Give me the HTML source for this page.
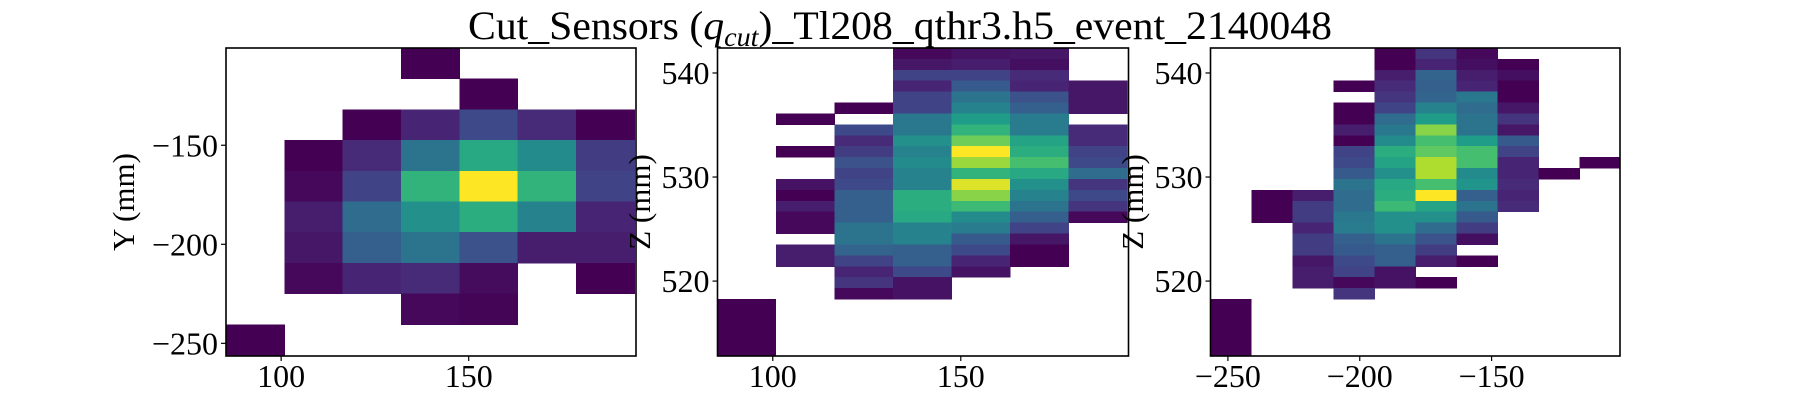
<!DOCTYPE html>
<html><head><meta charset="utf-8"><style>
html,body{margin:0;padding:0;background:#fff;width:1800px;height:400px;overflow:hidden}
svg{display:block;font-family:"Liberation Serif",serif}
</style></head><body>
<svg id="fig" width="1800" height="400" viewBox="0 0 1800 400" xmlns="http://www.w3.org/2000/svg">
<rect width="1800" height="400" fill="#fff"/>
<text x="900" y="39" font-size="40" text-anchor="middle" textLength="864" lengthAdjust="spacingAndGlyphs">Cut_Sensors (<tspan font-style="italic">q</tspan><tspan font-style="italic" font-size="27" dy="7">cut</tspan><tspan dy="-7">)_Tl208_qthr3.h5_event_2140048</tspan></text>
<g id="plots"></g>
</svg>
<script>
// ---- Panel 1: X vs Y ----
const p1XStart = 85.3, p1XBin = 15.55, p1YTop = -100.9, p1YBin = 15.5;
const p1Values = [
 [null,null,null,0.0,null,null,null],
 [null,null,null,null,0.0,null,null],
 [null,null,0.0,0.1,0.22,0.12,0.0],
 [null,0.0,0.12,0.38,0.6,0.48,0.18],
 [null,0.02,0.2,0.65,1.0,0.65,0.2],
 [null,0.08,0.35,0.5,0.62,0.45,0.1],
 [null,0.06,0.3,0.38,0.25,0.08,0.08],
 [null,0.02,0.1,0.12,0.03,null,0.0],
 [null,null,null,0.02,0.01,null,null],
 [0.0,null,null,null,null,null,null]
];
const p1XTicks = [100,150];
const p1YTicks = [-150,-200,-250];

// ---- Panel 2: X vs Z ----
const p2XStart = 85.3, p2XBin = 15.55, p2YTop = 542.4, p2YBin = 1.049;
const p2Values = [
 [null,null,null,0.02,0.05,0.06,null],
 [null,null,null,0.06,0.08,0.04,null],
 [null,null,null,0.2,0.2,0.12,null],
 [null,null,null,0.1,0.28,0.1,0.06],
 [null,null,null,0.2,0.38,0.25,0.06],
 [null,null,0.0,0.2,0.45,0.3,0.06],
 [null,0.0,null,0.4,0.55,0.42,null],
 [null,null,0.22,0.4,0.65,0.42,0.12],
 [null,null,0.12,0.5,0.78,0.58,0.12],
 [null,0.0,0.18,0.45,1.0,0.62,0.2],
 [null,null,0.25,0.48,0.85,0.7,0.22],
 [null,null,0.2,0.45,0.65,0.6,0.35],
 [null,0.05,0.22,0.45,0.95,0.5,0.15],
 [null,0.0,0.3,0.62,0.82,0.45,0.22],
 [null,0.08,0.3,0.62,0.68,0.38,0.15],
 [null,0.02,0.3,0.6,0.48,0.3,0.02],
 [null,0.02,0.38,0.45,0.42,0.2,null],
 [null,null,0.38,0.45,0.28,0.06,null],
 [null,0.08,0.32,0.3,0.22,0.0,null],
 [null,0.08,0.2,0.3,0.1,0.0,null],
 [null,null,0.1,0.22,0.05,null,null],
 [null,null,0.15,0.05,null,null,null],
 [null,null,0.02,0.05,null,null,null]
];
const p2Extra = [[85.3,100.85,512.8,518.3,0.0]];
const p2XTicks = [100,150];
const p2YTicks = [540,530,520];

// ---- Panel 3: Y vs Z ----
const p3XStart = -256.6, p3XBin = 15.55, p3YTop = 542.4, p3YBin = 1.049;
const p3Values = [
 [null,null,null,null,0.0,0.15,0.02,null,null,null],
 [null,null,null,null,0.0,0.1,0.04,0.0,null,null],
 [null,null,null,null,0.08,0.32,0.08,0.04,null,null],
 [null,null,null,0.0,0.12,0.3,0.1,0.0,null,null],
 [null,null,null,null,0.15,0.32,0.4,0.0,null,null],
 [null,null,null,0.0,0.2,0.45,0.35,0.06,null,null],
 [null,null,null,0.0,0.35,0.55,0.38,0.15,null,null],
 [null,null,null,0.08,0.4,0.82,0.38,0.06,null,null],
 [null,null,null,0.0,0.48,0.7,0.55,0.28,null,null],
 [null,null,null,0.2,0.62,0.75,0.7,0.2,null,null],
 [null,null,null,0.22,0.58,0.88,0.7,0.1,null,0.0],
 [null,null,null,0.28,0.5,0.88,0.48,0.1,0.0,null],
 [null,null,null,0.38,0.6,0.7,0.52,0.12,null,null],
 [null,0.0,0.08,0.35,0.62,1.0,0.3,0.1,null,null],
 [null,0.0,0.18,0.35,0.68,0.58,0.38,0.12,null,null],
 [null,0.0,0.18,0.4,0.5,0.5,0.28,null,null,null],
 [null,null,0.1,0.42,0.5,0.35,0.18,null,null,null],
 [null,null,0.18,0.3,0.38,0.25,0.04,null,null,null],
 [null,null,0.18,0.28,0.3,0.18,null,null,null,null],
 [null,null,0.06,0.22,0.3,0.08,0.0,null,null,null],
 [null,null,0.08,0.2,0.05,null,null,null,null,null],
 [null,null,0.08,0.02,0.05,0.0,null,null,null,null],
 [null,null,null,0.15,null,null,null,null,null,null]
];
const p3Extra = [[-256.6,-241.05,512.8,518.3,0.0]];
const p3XTicks = [-250,-200,-150];
const p3YTicks = [540,530,520];

const VIR = [[68,1,84],[72,40,120],[62,74,137],[49,104,142],[38,130,142],[31,158,137],[53,183,121],[109,205,89],[180,222,44],[253,231,37]];
function viridis(t){t=Math.max(0,Math.min(1,t));const f=t*9,i=Math.min(8,Math.floor(f)),r=f-i;const a=VIR[i],b=VIR[i+1];
 return 'rgb('+a.map((v,k)=>Math.round(v+(b[k]-v)*r)).join(',')+')';}
const NS='http://www.w3.org/2000/svg';
const root=document.getElementById('plots');
function mk(tag,attrs,parent){const e=document.createElementNS(NS,tag);for(const k in attrs)e.setAttribute(k,attrs[k]);(parent||root).appendChild(e);return e;}

function panel(id,px0,px1,py0,py1,xd0,xd1,yd0,yd1,xStart,xBin,yTop,yBin,vals,extra,xt,yt,ylabel,ylabelX){
 const g=mk('g',{});
 
 
 const sx=v=>px0+(v-xd0)/(xd1-xd0)*(px1-px0);
 const sy=v=>py1-(v-yd0)/(yd1-yd0)*(py1-py0);
 const cg=mk('g',{'shape-rendering':'crispEdges'},g);
 
 
 vals.forEach((row,r)=>row.forEach((v,c)=>{
  if(v===null)return;
  const x0=sx(xStart+c*xBin),x1=sx(xStart+(c+1)*xBin);
  const y0=sy(yTop-r*yBin),y1=sy(yTop-(r+1)*yBin);
  const rc=mk('rect',{x:x0,y:y0,width:Math.min(x1,px1)-x0+0.5,height:y1-y0+0.5,fill:viridis(v)},cg);
  
  
 }));
 (extra||[]).forEach(e=>{
  const rc=mk('rect',{x:sx(e[0]),y:sy(e[3]),width:sx(e[1])-sx(e[0]),height:sy(e[2])-sy(e[3]),fill:viridis(e[4])},cg);
  
  
 });
 const fr=mk('rect',{x:px0,y:py0,width:px1-px0,height:py1-py0,fill:'none',stroke:'#000','stroke-width':1.6},g);
 
 
 xt.forEach(t=>{const x=sx(t);
  mk('line',{x1:x,x2:x,y1:py1,y2:py1+5,stroke:'#000','stroke-width':1.2},g);
  const tx=mk('text',{x:x,y:387,'font-size':32,'text-anchor':'middle'},g);
  tx.textContent=(t<0?'\u2212'+(-t):t);
  
  
 });
 yt.forEach(t=>{const y=sy(t);
  mk('line',{x1:px0-5,x2:px0,y1:y,y2:y,stroke:'#000','stroke-width':1.2},g);
  const tx=mk('text',{x:px0-8,y:y+11,'font-size':32,'text-anchor':'end'},g);
  tx.textContent=(t<0?'\u2212'+(-t):t);
  
  
 });
 const yl=mk('text',{x:ylabelX,y:202,'font-size':31,'text-anchor':'middle',transform:'rotate(-90 '+ylabelX+' 202)'},g);
 yl.textContent=ylabel;
 
 
}
panel('panel-xy',226,636,48,356,85.3,194.6,-256.4,-100.9,p1XStart,p1XBin,p1YTop,p1YBin,p1Values,null,p1XTicks,p1YTicks,'Y (mm)',134);
panel('panel-xz',717.5,1128.5,48,356,85.3,194.6,512.8,542.4,p2XStart,p2XBin,p2YTop,p2YBin,p2Values,p2Extra,p2XTicks,p2YTicks,'Z (mm)',650);
panel('panel-yz',1210.5,1620,48,356,-256.6,-101.3,512.8,542.4,p3XStart,p3XBin,p3YTop,p3YBin,p3Values,p3Extra,p3XTicks,p3YTicks,'Z (mm)',1143);
</script>
</body></html>
